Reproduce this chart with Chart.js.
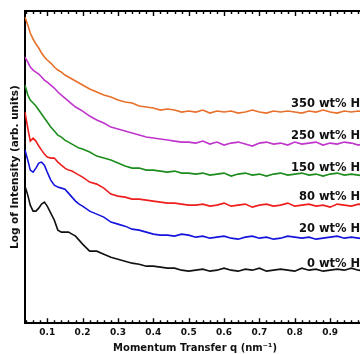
<!DOCTYPE html>
<html>
<head>
<meta charset="utf-8">
<script src="https://cdn.jsdelivr.net/npm/chart.js@4"></script>
<style>
  html, body { margin: 0; padding: 0; background: #fff; overflow: hidden; }
</style>
</head>
<body>
<canvas id="saxsChart" width="370" height="354"></canvas>
<script>
// momentum transfer q (nm^-1)
const q = [0.037, 0.045, 0.052, 0.06, 0.068, 0.076, 0.084, 0.092, 0.10,
  0.11, 0.12, 0.13, 0.14, 0.15, 0.16, 0.17, 0.18, 0.19, 0.20,
  0.22, 0.24, 0.26, 0.28, 0.30, 0.32, 0.34, 0.36, 0.38, 0.40,
  0.42, 0.44, 0.46, 0.48, 0.50, 0.52, 0.54, 0.56, 0.58, 0.60,
  0.62, 0.64, 0.66, 0.68, 0.70, 0.72, 0.74, 0.76, 0.78, 0.80,
  0.82, 0.84, 0.86, 0.88, 0.90, 0.92, 0.94, 0.96, 0.98, 1.00];

// log intensity, arb. units (curves offset for clarity)
const h350 = [306, 298, 290, 284, 279, 275, 270, 266, 263, 260, 256, 253, 251, 248, 246, 244, 242, 240, 238, 234,
  231, 228, 226, 223, 221, 220, 217, 216, 215, 213, 214, 213, 211, 212,
  211, 213, 210, 212, 211, 212, 210, 211, 213, 211, 210, 212, 211, 212, 211, 210, 212, 211, 213, 211, 210, 212, 211, 212, 211];
const h250 = [266, 261, 256, 253, 251, 249, 246, 243, 241, 238, 235, 231, 228, 225, 222, 219, 216, 214, 212, 207,
  203, 200, 196, 194, 192, 190, 188, 186, 185, 184, 183, 182, 181, 181,
  180, 182, 179, 181, 178, 180, 181, 179, 177, 180, 181, 179, 180, 178, 181, 179, 180, 181, 178, 180, 179, 181, 180, 178, 180];
const h150 = [238, 228, 223, 220, 217, 213, 209, 205, 201, 196, 192, 188, 186, 183, 181, 179, 177, 175, 174, 171,
  167, 165, 163, 160, 157, 155, 155, 153, 153, 152, 151, 152, 150, 150,
  149, 150, 148, 149, 150, 147, 149, 150, 148, 149, 147, 149, 150, 148, 149, 150, 148, 149, 147, 149, 150, 148, 149, 148, 147];
const h80 = [211, 195, 182, 185, 182, 177, 173, 169, 166, 165, 165, 161, 158, 155, 153, 152, 150, 148, 146, 141,
  139, 135, 129, 127, 126, 124, 124, 123, 122, 121, 120, 120, 119, 118,
  118, 119, 117, 118, 120, 117, 118, 119, 116, 118, 119, 117, 118, 120, 117, 118, 119, 117, 118, 116, 119, 118, 117, 119, 118];
const h20 = [173, 163, 153, 151, 155, 160, 161, 158, 151, 143, 138, 136, 135, 134, 130, 126, 122, 119, 117, 112,
  109, 106, 101, 99, 97, 94, 93, 91, 89, 88, 88, 87, 89, 88,
  86, 87, 85, 86, 87, 85, 84, 86, 87, 85, 86, 84, 85, 87, 86, 85, 86, 84, 85, 86, 87, 85, 86, 85, 84];
const h0 = [137, 128, 118, 112, 112, 115, 119, 121, 117, 110, 103, 93, 91, 91, 91, 89, 87, 83, 79, 72,
  72, 69, 66, 64, 62, 60, 59, 57, 57, 56, 55, 55, 53, 52,
  53, 54, 52, 53, 55, 53, 52, 54, 53, 55, 52, 53, 54, 53, 52, 55, 53, 54, 52, 53, 54, 53, 55, 53, 52];

const names = ['350 wt% H', '250 wt% H', '150 wt% H', '80 wt% H', '20 wt% H', '0 wt% H'];
const colors = ['#E8702A', '#C035CC', '#1C8C1C', '#EE1E1E', '#1414DC', '#111111'];
const allSeries = [h350, h250, h150, h80, h20, h0];
// where each curve's label sits (q, intensity)
const labelQ = 0.985;
const labelY = [219, 187, 155, 126, 94, 59];

const isMajor = v => Math.abs(v * 10 - Math.round(v * 10)) < 1e-6;
const FONT = '"DejaVu Sans", sans-serif';

const insideTicks = {
  id: 'insideTicks',
  afterDraw(chart) {
    const ctx = chart.ctx;
    const area = chart.chartArea;
    const xs = chart.scales.x;
    ctx.save();
    ctx.strokeStyle = '#000';
    ctx.lineWidth = 1.4;
    xs.ticks.forEach(t => {
      const px = Math.round(xs.getPixelForValue(t.value)) + 0.5;
      const len = isMajor(t.value) ? 5 : 3;
      ctx.beginPath();
      ctx.moveTo(px, area.bottom);
      ctx.lineTo(px, area.bottom - len);
      ctx.moveTo(px, area.top);
      ctx.lineTo(px, area.top + len);
      ctx.stroke();
    });
    ctx.restore();
  }
};

const curveLabels = {
  id: 'curveLabels',
  afterDatasetsDraw(chart) {
    const ctx = chart.ctx;
    const xs = chart.scales.x, ys = chart.scales.y;
    ctx.save();
    ctx.font = 'bold 11.5px ' + FONT;
    ctx.fillStyle = '#111';
    ctx.textAlign = 'right';
    ctx.textBaseline = 'middle';
    names.forEach((n, i) => {
      ctx.fillText(n, xs.getPixelForValue(labelQ), ys.getPixelForValue(labelY[i]));
    });
    ctx.restore();
  }
};

const config = {
  type: 'line',
  data: {
    datasets: allSeries.map((s, i) => ({
      label: names[i],
      data: q.map((x, j) => ({ x: x, y: s[j] })),
      borderColor: colors[i],
      borderWidth: 1.6,
      pointRadius: 0,
      tension: 0,
      fill: false
    }))
  },
  options: {
    responsive: false,
    animation: false,
    layout: { padding: { top: 11, right: 2, bottom: 0, left: 0 } },
    plugins: {
      legend: { display: false },
      tooltip: { enabled: false }
    },
    scales: {
      x: {
        type: 'linear',
        position: 'bottom',
        min: 0.036,
        max: 1.0,
        grid: { display: false, drawTicks: false },
        border: { display: true, color: '#000', width: 2 },
        ticks: {
          stepSize: 0.02,
          maxTicksLimit: 100,
          includeBounds: false,
          autoSkip: false,
          maxRotation: 0,
          padding: 4.5,
          color: '#111',
          font: { family: FONT, size: 9, weight: 'bold' },
          callback: v => (isMajor(v) && v < 0.95) ? v.toFixed(1) : ''
        },
        title: {
          display: true,
          text: 'Momentum Transfer q (nm\u207B\u00B9)',
          color: '#111',
          font: { family: FONT, size: 10, weight: 'bold', lineHeight: 1 },
          padding: { top: 0, bottom: 1 }
        }
      },
      x2: {
        type: 'linear',
        position: 'top',
        min: 0.036,
        max: 1.0,
        grid: { display: false, drawTicks: false },
        border: { display: true, color: '#000', width: 2 },
        ticks: { display: false }
      },
      y: {
        type: 'linear',
        min: 0,
        max: 312,
        grid: { display: false, drawTicks: false },
        border: { display: true, color: '#000', width: 2 },
        ticks: { display: false },
        title: {
          display: true,
          text: 'Log of Intensity (arb. units)',
          color: '#111',
          font: { family: FONT, size: 10.5, weight: 'bold' },
          padding: { top: 9, bottom: 3 }
        }
      }
    }
  },
  plugins: [insideTicks, curveLabels]
};

window.onload = function () {
  const ctx = document.getElementById('saxsChart').getContext('2d');
  new Chart(ctx, config);
};
</script>
</body>
</html>
